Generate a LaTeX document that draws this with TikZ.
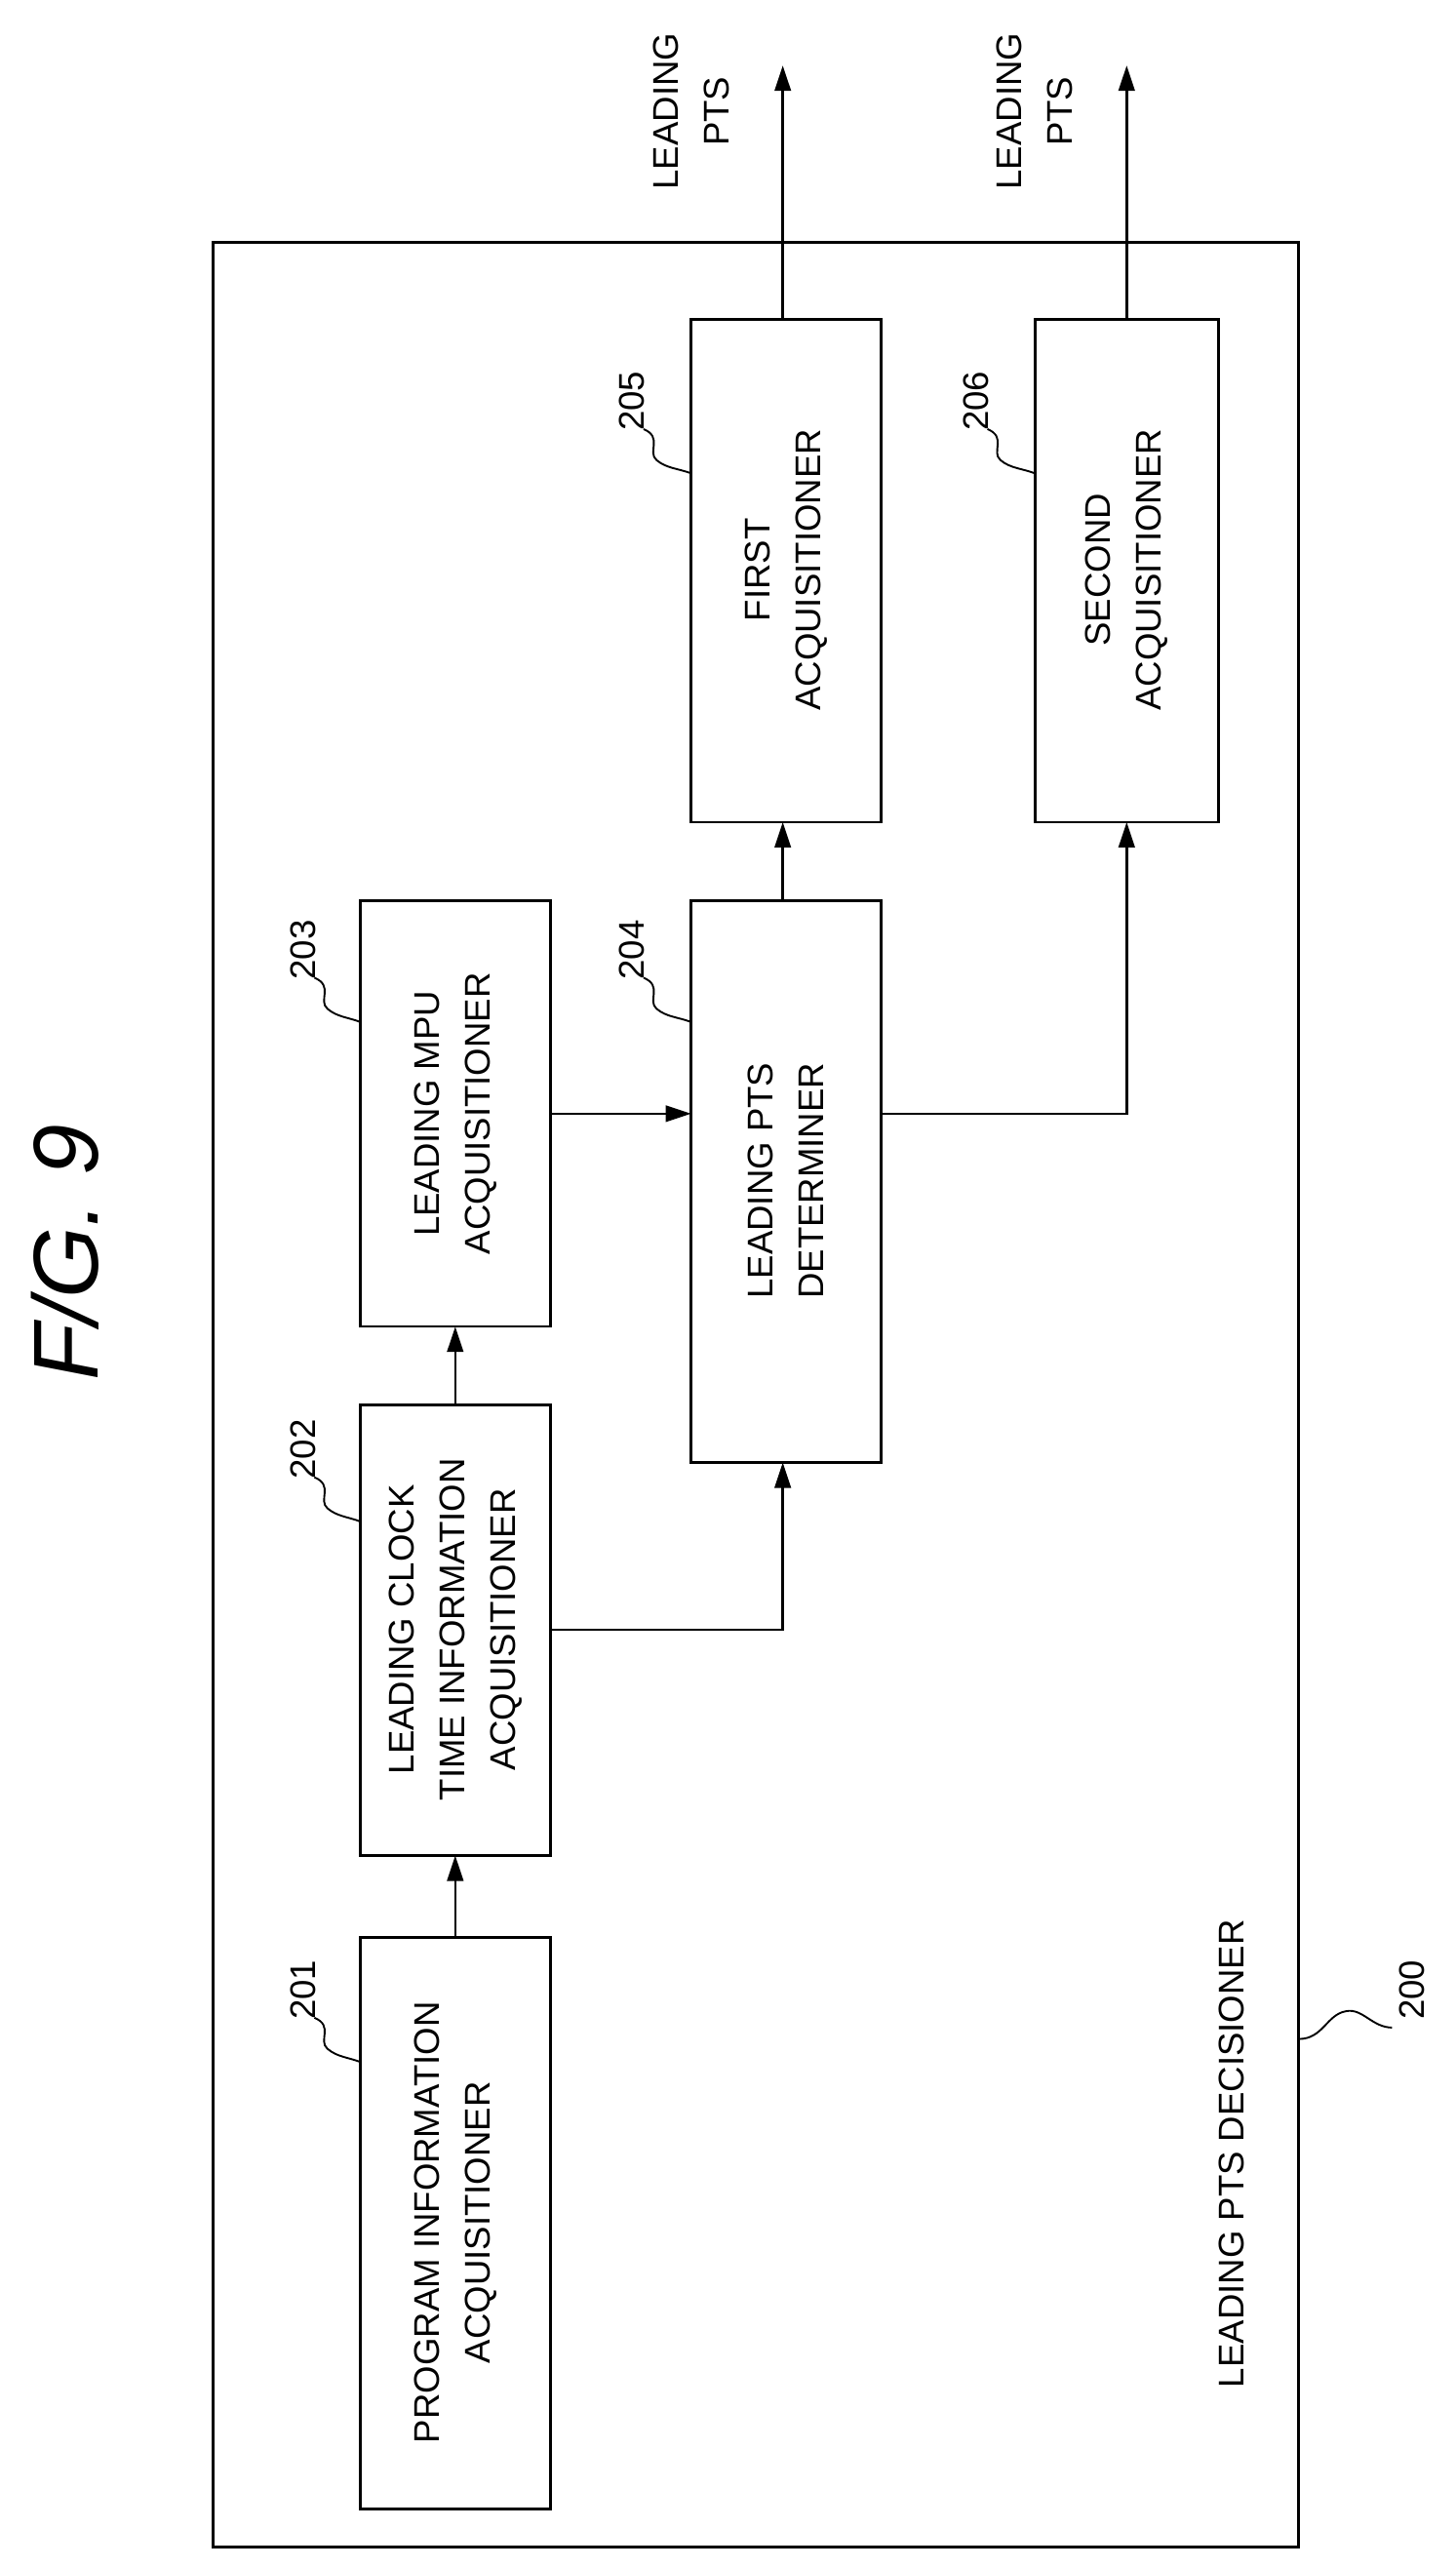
\documentclass[tikz,border=0pt]{standalone}
\usepackage{fontspec}
\setmainfont{Liberation Sans}
\usetikzlibrary{arrows.meta}
\begin{document}
\begin{tikzpicture}[x=0.05cm,y=-0.05cm,line width=2.2pt,
  blk/.style={draw,line width=2.2pt},
  txt/.style={rotate=90,align=center,font=\fontsize{31}{44}\selectfont},
  num/.style={rotate=90,font=\fontsize{31}{36}\selectfont},
  arr/.style={-{Triangle[length=22pt,width=14pt]},line width=2.2pt},
  sq/.style={line width=1.6pt}]
\useasboundingbox (0,0) rectangle (889,1568);
\node[rotate=90,font=\fontsize{80}{90}\selectfont\itshape] (title) at (40,765) {F/G. 9};
\draw[blk] (130,148) rectangle (793,1555);
\coordinate (b201) at (278,1357); \draw[blk] (220,1183) rectangle (336,1532);
\draw[blk] (220,858) rectangle (336,1133);
\draw[blk] (220,550) rectangle (336,810);
\draw[blk] (422,550) rectangle (538,893);
\draw[blk] (422,195) rectangle (538,502);
\draw[blk] (632,195) rectangle (744,502);
\node[txt] (t201) at (278,1357) {PROGRAM INFORMATION\\ACQUISITIONER};
\node[txt] (t202) at (278,995) {LEADING CLOCK\\TIME INFORMATION\\ACQUISITIONER};
\node[txt] (t203) at (278,680) {LEADING MPU\\ACQUISITIONER};
\node[txt] (t204) at (480,721) {LEADING PTS\\DETERMINER};
\node[txt] (t205) at (480,348) {FIRST\\ACQUISITIONER};
\node[txt] (t206) at (688,348) {SECOND\\ACQUISITIONER};
\node[txt] (t200) at (752,1315) {LEADING PTS DECISIONER};
\node[txt] (o1) at (422,68) {LEADING\\PTS};
\node[txt] (o2) at (632,68) {LEADING\\PTS};
\coordinate (a1) at (278,1183); \coordinate (a2) at (278,1133);
\coordinate (c1) at (278,858); \coordinate (c2) at (278,810);
\coordinate (d1) at (336,995); \coordinate (d2) at (478,893);
\coordinate (e1) at (336,680); \coordinate (e2) at (422,680);
\coordinate (f1) at (478,550); \coordinate (f2) at (478,502);
\coordinate (g1) at (538,680); \coordinate (g2) at (688,502);
\coordinate (h1) at (478,195); \coordinate (h2) at (478,40);
\coordinate (i1) at (688,195); \coordinate (i2) at (688,40);
\draw[arr] (a1) -- (a2);
\draw[arr] (c1) -- (c2);
\draw[arr] (d1) -| (d2);
\draw[arr] (e1) -- (e2);
\draw[arr] (f1) -- (f2);
\draw[arr] (g1) -| (g2);
\draw[arr] (h1) -- (h2);
\draw[arr] (i1) -- (i2);
\node[num] (n201) at (185,1215) {201};
\node[num] (n202) at (185,885) {202};
\node[num] (n203) at (185,580) {203};
\node[num] (n204) at (386,580) {204};
\node[num] (n205) at (386,245) {205};
\node[num] (n206) at (596,245) {206};
\node[num] (n200) at (862,1215) {200};
\foreach \x/\y/\ex in {192/1232/220,192/902/220,192/597/220,393/597/422,393/262/422,603/262/632}{
  \draw[sq] (\x,\y) .. controls (\x+12,\y+5) and (\x+2,\y+14) .. (\x+8,\y+19)
     .. controls (\x+14,\y+24) and (\ex-8,\y+24) .. (\ex,\y+27);}
\draw[sq] (793,1245) .. controls (808,1245) and (810,1230) .. (822,1228)
   .. controls (832,1226) and (838,1238) .. (850,1238);
\end{tikzpicture}
\end{document}
